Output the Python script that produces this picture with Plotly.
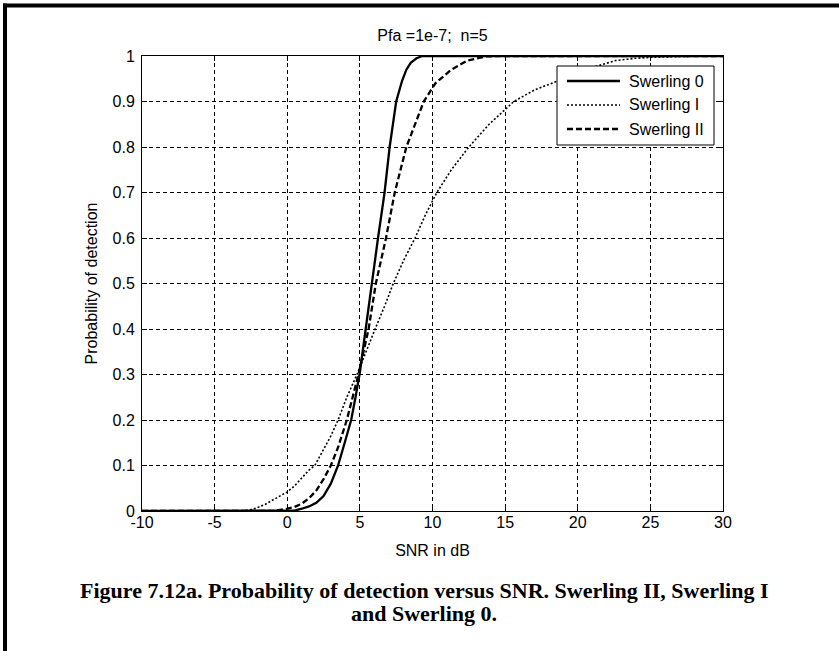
import plotly.graph_objects as go

# ---------------- data ----------------
snr_sw0 = [-10, 0, 0.5, 1.0, 1.5, 2.0, 2.5, 3.0, 3.5, 4.0, 4.4, 4.7, 5.0, 5.4, 5.8,
           6.25, 6.7, 7.05, 7.5, 7.9, 8.2, 8.5, 8.9, 9.3, 30]
pd_sw0 = [0, 0, 0.001, 0.005, 0.01, 0.018, 0.033, 0.06, 0.1, 0.155, 0.2, 0.25, 0.305, 0.4, 0.5,
          0.6, 0.7, 0.8, 0.9, 0.945, 0.97, 0.985, 0.995, 1.0, 1.0]

snr_sw1 = [-10, -3, -2.5, -2, -1.5, -1, -0.5, 0, 0.5, 1.0, 1.5, 1.9, 2.5, 3.0, 3.5, 4.1, 4.8,
           5.4, 6.05, 6.7, 7.3, 8.0, 8.8, 9.5, 10.3, 11.3, 12.5, 13.9, 15.6, 17.0, 18.6, 20.0,
           21.5, 22.6, 24.0, 25.0, 27.0, 30.0]
pd_sw1 = [0, 0, 0.003, 0.008, 0.015, 0.024, 0.032, 0.042, 0.055, 0.072, 0.09, 0.1, 0.135, 0.165,
          0.2, 0.25, 0.3, 0.35, 0.4, 0.45, 0.5, 0.55, 0.6, 0.65, 0.7, 0.75, 0.8, 0.85, 0.9, 0.925,
          0.945, 0.965, 0.98, 0.99, 0.995, 0.997, 0.999, 1.0]

snr_sw2 = [-10, -1, 0, 0.5, 1.0, 1.5, 2.0, 2.5, 3.0, 3.5, 4.1, 4.5, 4.9, 5.6, 6.1, 6.8, 7.4,
           8.2, 9.4, 10.2, 11.3, 12.4, 13.7, 14.5, 30]
pd_sw2 = [0, 0, 0.005, 0.009, 0.016, 0.028, 0.045, 0.07, 0.1, 0.14, 0.2, 0.25, 0.3, 0.4, 0.5,
          0.6, 0.7, 0.8, 0.9, 0.94, 0.97, 0.99, 0.999, 1.0, 1.0]

series_names = ["Swerling 0", "Swerling I", "Swerling II"]
x_ticks = [-10, -5, 0, 5, 10, 15, 20, 25, 30]
y_ticks = [0, 0.1, 0.2, 0.3, 0.4, 0.5, 0.6, 0.7, 0.8, 0.9, 1]

title_text = "Pfa =1e-7;\u00a0 n=5"
x_title = "SNR in dB"
y_title = "Probability of detection"
caption_lines = ["Figure 7.12a. Probability of detection versus SNR. Swerling II, Swerling I",
                 "and Swerling 0."]

# ---------------- layout geometry ----------------
W, H = 839, 651
L, R, T, B = 142, 116, 56, 140
PW, PH = W - L - R, H - T - B


def xp(px):
    return (px - L) / PW


def yp(py):
    return (H - B - py) / PH


FONT = "Liberation Sans, Arial, sans-serif"
SERIF = "Liberation Serif, Times New Roman, serif"
FS = 16
styles = [
    dict(width=2.3, dash="solid"),
    dict(width=1.6, dash="2px,2px"),
    dict(width=2.3, dash="6px,3px"),
]

fig = go.Figure()
for name, xs, ys, st in zip(series_names, [snr_sw0, snr_sw1, snr_sw2],
                            [pd_sw0, pd_sw1, pd_sw2], styles):
    fig.add_trace(go.Scatter(x=xs, y=ys, mode="lines", name=name,
                             line=dict(color="black", width=st["width"], dash=st["dash"]),
                             showlegend=False))

axis_common = dict(
    showline=True, linecolor="black", linewidth=1, mirror="ticks",
    ticks="inside", ticklen=5, tickcolor="black", tickwidth=1,
    showgrid=True, gridcolor="black", gridwidth=1, griddash="4px,3px",
    zeroline=False, tickfont=dict(family=FONT, size=FS, color="black"),
)

fig.update_xaxes(range=[-10, 30], tickvals=x_ticks, ticktext=[str(v) for v in x_ticks],
                 title=dict(text=x_title, font=dict(family=FONT, size=FS, color="black"),
                            standoff=14),
                 ticklabelstandoff=-3, **axis_common)
fig.update_yaxes(range=[0, 1], tickvals=y_ticks, ticktext=[f"{v:g}" for v in y_ticks],
                 title=dict(text=y_title, font=dict(family=FONT, size=FS, color="black"),
                            standoff=10),
                 ticklabelstandoff=3, **axis_common)

shapes = []
# outer frame (left and top edges visible in the reference)
shapes.append(dict(type="line", xref="paper", yref="paper", x0=xp(5), x1=xp(5),
                   y0=yp(3.5), y1=yp(670), line=dict(color="black", width=4)))
shapes.append(dict(type="line", xref="paper", yref="paper", x0=xp(3), x1=xp(860),
                   y0=yp(5.5), y1=yp(5.5), line=dict(color="black", width=4)))

# legend box
lx0, lx1, ly0, ly1 = 557, 714, 66, 145
shapes.append(dict(type="rect", xref="paper", yref="paper", x0=xp(lx0), x1=xp(lx1),
                   y0=yp(ly1), y1=yp(ly0), fillcolor="white",
                   line=dict(color="black", width=1), layer="above"))
annotations = []
row_y = [81, 105, 129]
for name, st, ry in zip(series_names, styles, row_y):
    shapes.append(dict(type="line", xref="paper", yref="paper", x0=xp(567), x1=xp(620),
                       y0=yp(ry), y1=yp(ry), layer="above",
                       line=dict(color="black", width=st["width"], dash=st["dash"])))
    annotations.append(dict(text=name, xref="paper", yref="paper", x=xp(627), y=yp(ry),
                            xanchor="left", yanchor="middle", showarrow=False,
                            font=dict(family=FONT, size=FS, color="black")))

# caption (two centred lines)
for line_text, cy in zip(caption_lines, [590, 613]):
    annotations.append(dict(text=line_text, xref="paper", yref="paper", x=xp(424), y=yp(cy),
                            xanchor="center", yanchor="middle", showarrow=False,
                            font=dict(family=SERIF, size=22, color="black", weight="bold")))

fig.update_layout(
    width=W, height=H,
    margin=dict(l=L, r=R, t=T, b=B),
    paper_bgcolor="white", plot_bgcolor="white",
    title=dict(text=title_text, x=0.5, xref="paper", xanchor="center",
               y=1 - 35 / H, yref="container", yanchor="middle",
               font=dict(family=FONT, size=FS, color="black")),
    shapes=shapes, annotations=annotations,
)

fig.write_html("out.html", config={"displayModeBar": False},
               post_script="document.body.style.margin='0';")
